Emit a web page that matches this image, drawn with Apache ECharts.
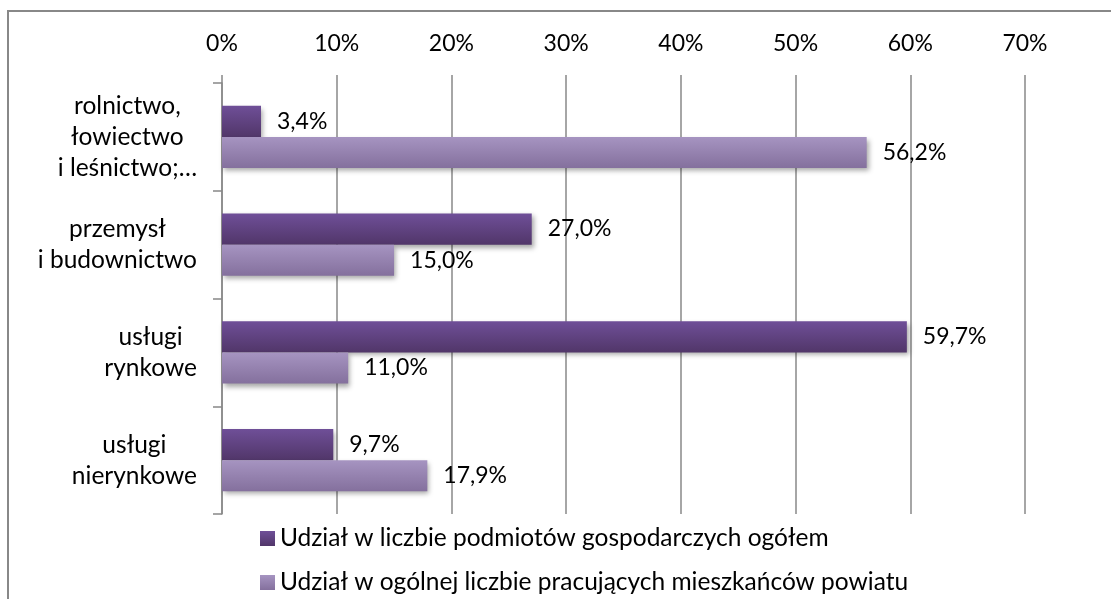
<!DOCTYPE html>
<html>
<head>
<meta charset="utf-8">
<script src="https://cdn.jsdelivr.net/npm/echarts@6/dist/echarts.min.js"></script>
<style>
  html, body { margin: 0; padding: 0; background: #fff; }
  #chart { width: 1111px; height: 599px; }
</style>
</head>
<body>
<div id="chart"></div>
<script>
// dane
var categories = ['rolnictwo,\nłowiectwo\ni leśnictwo;…', 'przemysł\ni budownictwo', 'usługi\nrynkowe', 'usługi\nnierynkowe'];
var podmioty = [3.4, 27.0, 59.7, 9.7];
var pracujacy = [56.2, 15.0, 11.0, 17.9];
var seriesNames = ['Udział w liczbie podmiotów gospodarczych ogółem', 'Udział w ogólnej liczbie pracujących mieszkańców powiatu'];
var axisMin = 0, axisMax = 70, axisStep = 10;

var FONT = 'Lato';
var gray = '#888888';

function grad(top, bottom) {
    return new echarts.graphic.LinearGradient(0, 0, 0, 1, [
        { offset: 0, color: top },
        { offset: 1, color: bottom }
    ]);
}
var darkColor = grad('#6f4f98', '#513669');
var lightColor = grad('#a694c1', '#84709d');

function pct(p) {
    return p.value.toFixed(1).replace('.', ',') + '%';
}

var barLabel = {
    show: true,
    position: 'right',
    distance: 16,
    formatter: pct,
    color: '#000',
    fontFamily: FONT,
    fontSize: 23
};
var barShadow = {
    shadowBlur: 5,
    shadowOffsetX: 2,
    shadowOffsetY: 3,
    shadowColor: 'rgba(0,0,0,0.35)'
};

var myChart = echarts.init(document.getElementById('chart'));

var option = {
    backgroundColor: '#fff',
    animation: false,
    graphic: [{
        type: 'rect',
        z: -10,
        shape: { x: 8, y: 11, width: 1200, height: 700 },
        style: { fill: 'none', stroke: gray, lineWidth: 2 }
    }],
    grid: { left: 222, right: 86, top: 83, bottom: 85 },
    legend: {
        orient: 'vertical',
        left: 260,
        top: 524,
        padding: 0,
        itemWidth: 15,
        itemHeight: 15,
        itemGap: 15,
        icon: 'rect',
        textStyle: { color: '#000', fontFamily: FONT, fontSize: 24.5, lineHeight: 29 },
        data: seriesNames
    },
    xAxis: {
        type: 'value',
        position: 'top',
        min: axisMin,
        max: axisMax,
        interval: axisStep,
        axisLine: { show: false },
        axisTick: { show: true, length: 8, lineStyle: { color: gray, width: 1.5 } },
        splitLine: { show: true, lineStyle: { color: gray, width: 1.5 } },
        axisLabel: {
            formatter: '{value}%',
            color: '#000',
            fontFamily: FONT,
            fontSize: 23,
            margin: 28
        }
    },
    yAxis: {
        type: 'category',
        inverse: true,
        data: categories,
        axisLine: { show: true, lineStyle: { color: gray, width: 1.5 } },
        axisTick: { show: true, length: 9, lineStyle: { color: gray, width: 1.5 } },
        axisLabel: {
            align: 'right',
            margin: 25,
            formatter: function (v) {
                return v.split('\n').map(function (s) { return '{c|' + s + '}'; }).join('\n');
            },
            rich: {
                c: { align: 'center', color: '#000', fontFamily: FONT, fontSize: 24.5, lineHeight: 31 }
            }
        }
    },
    series: [{
        name: seriesNames[0],
        type: 'bar',
        data: podmioty,
        barGap: '0%',
        barCategoryGap: '42%',
        itemStyle: Object.assign({ color: darkColor }, barShadow),
        label: barLabel
    }, {
        name: seriesNames[1],
        type: 'bar',
        data: pracujacy,
        barGap: '0%',
        barCategoryGap: '42%',
        itemStyle: Object.assign({ color: lightColor }, barShadow),
        label: barLabel
    }]
};

myChart.setOption(option);
</script>
</body>
</html>
